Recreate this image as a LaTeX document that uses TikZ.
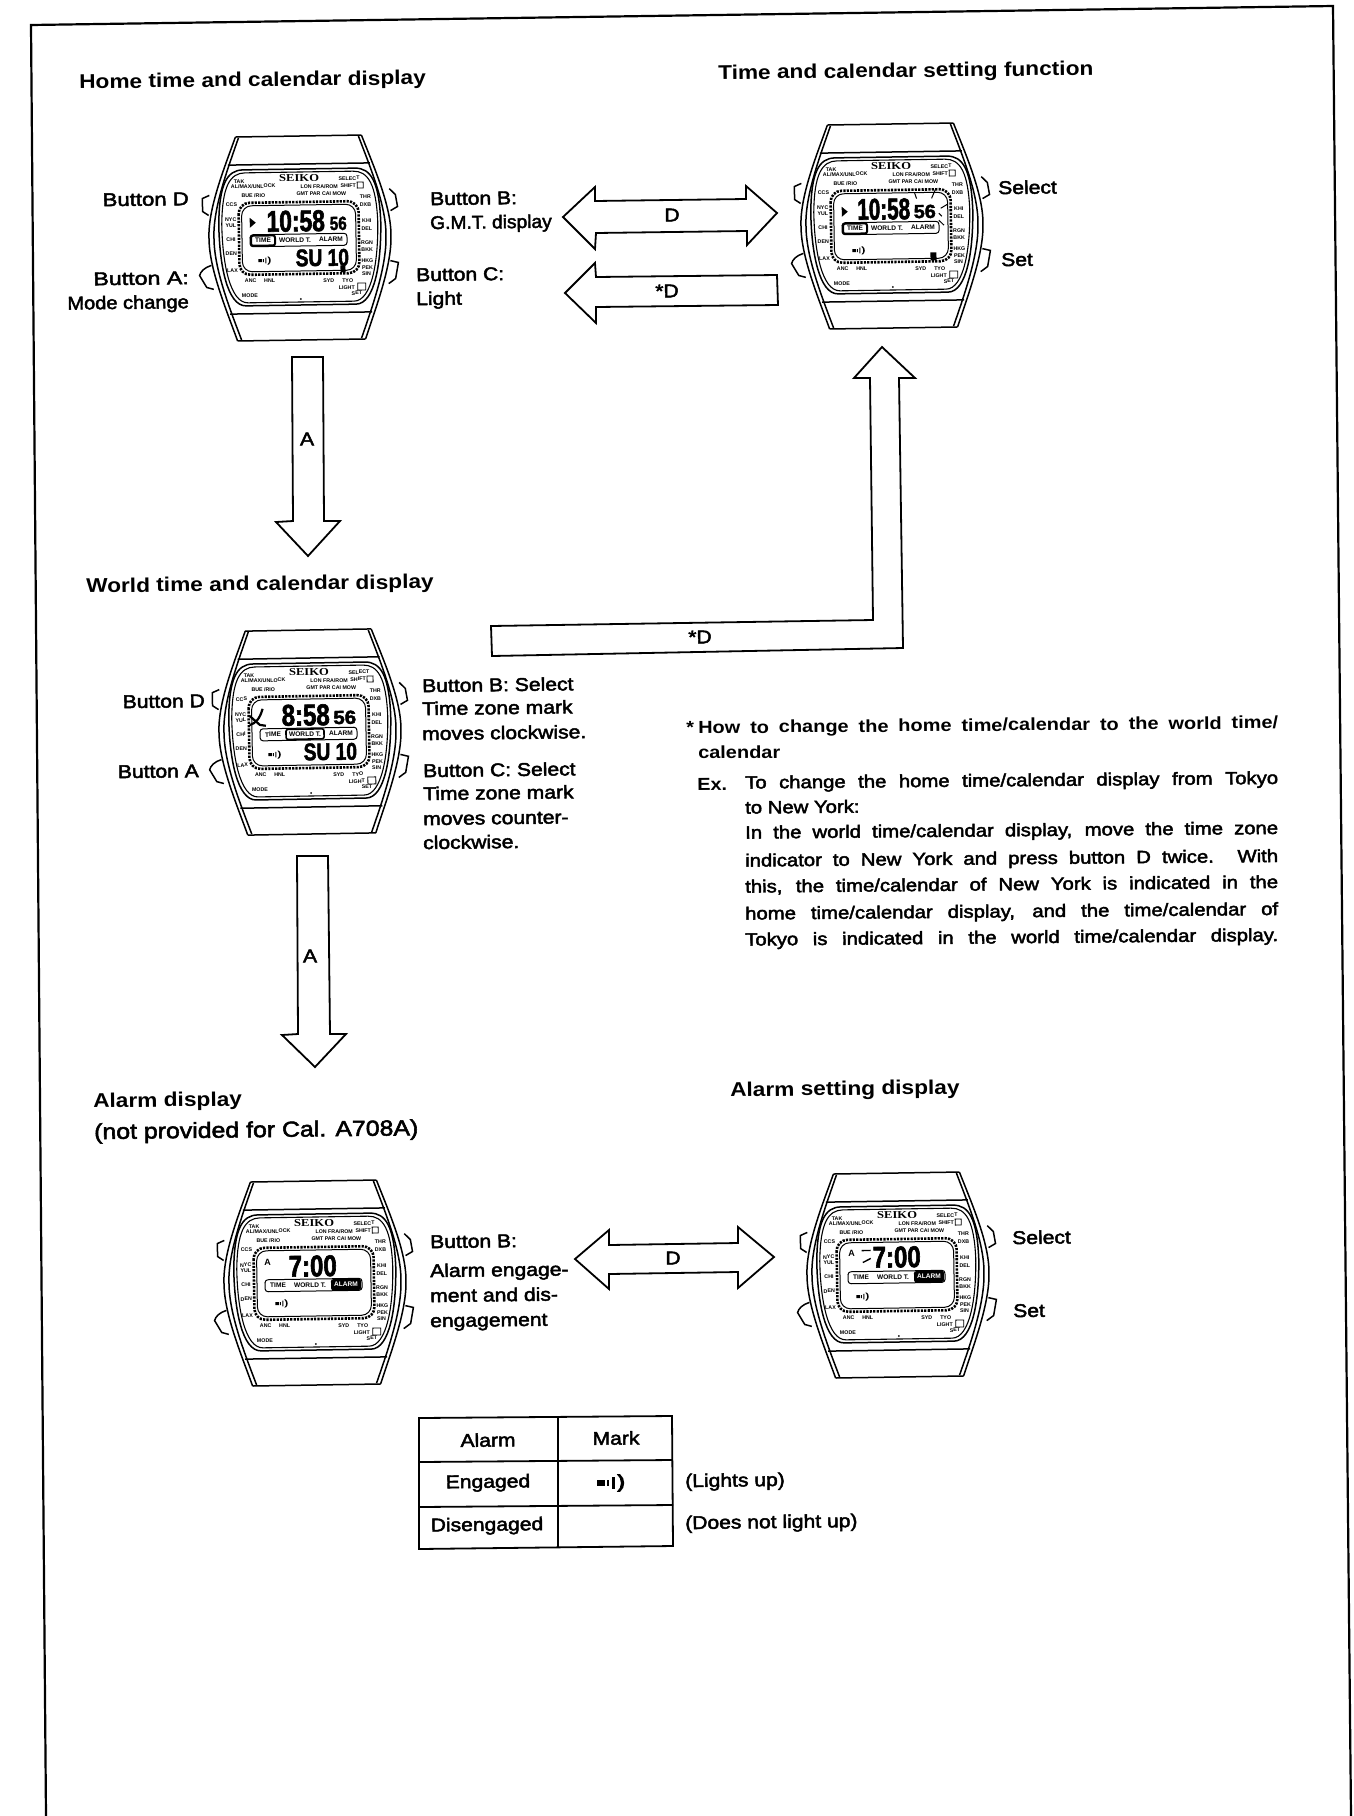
\documentclass[tikz,border=0pt]{standalone}
\usepackage{fontspec}
\setmainfont[FakeStretch=1.14]{Liberation Sans}
\newfontfamily\medf[FakeStretch=1.14,FakeBold=2.5]{Liberation Sans}
\newfontfamily\segf[FakeStretch=0.8,FakeBold=2]{Liberation Sans Bold}
\newfontfamily\logof[FakeStretch=1.2]{Liberation Serif Bold}
\newfontfamily\tinyf{Liberation Sans Bold}
\newcount\labn
\tikzset{
  x=1pt,y=-1pt,
  txt/.style={inner sep=0pt,rotate=0.7,font=\medf\fontsize{18.5}{20}\selectfont},
  head/.style={inner sep=0pt,rotate=0.7,anchor=mid west,yshift=-6pt,font=\bfseries\fontsize{19.9}{20}\selectfont},
  lw/.style={anchor=mid west,yshift=-4.5pt},
  le/.style={anchor=mid east,yshift=-4.5pt},
  note/.style={inner sep=0pt,rotate=0.5,anchor=mid west,yshift=-4pt,font=\medf\fontsize{17.8}{20}\selectfont},
  noteb/.style={inner sep=0pt,rotate=0.5,anchor=mid west,yshift=-4pt,font=\bfseries\fontsize{17.5}{20}\selectfont},
  tinylab/.style={inner sep=0pt,rotate=0.8,font=\tinyf\fontsize{5.3}{6}\selectfont},
  modelab/.style={inner sep=0pt,rotate=0.8,font=\tinyf\fontsize{6.6}{7}\selectfont},
  seg/.style={inner sep=0pt,rotate=0.8,font=\segf\fontsize{30}{30}\selectfont},
  segsm/.style={inner sep=0pt,rotate=0.8,font=\segf\fontsize{19}{20}\selectfont},
  segbt/.style={inner sep=0pt,rotate=0.8,font=\segf\fontsize{24}{24}\selectfont},
  block/.style={draw=black,line width=1.8pt,fill=white,line join=miter},
  wline/.style={draw=black,line width=1.5pt},
  tline/.style={draw=black,line width=1.8pt},
}
\newcommand\lab[3]{\global\advance\labn by 1\relax
  \node[tinylab] (lab\the\labn) at (#1,#2) {#3};}
\newcommand\alarmmark{%
  \fill (0,-1.5) rectangle (3.5,1.5);
  \fill (4.5,-1.5) rectangle (5.5,1.5);
  \fill (7,-2.8) rectangle (8,2.8);
  \fill (9,-4) .. controls (11.5,-2) and (11.5,2) .. (9,4) -- (10.5,4) .. controls (13,2) and (13,-2) .. (10.5,-4) -- cycle;
}
\newcommand\watchbase{%
  % case and strap
  \draw[wline] (-63,-102) -- (63,-102);
  \draw[wline] (-64,102) -- (64,102);
  \draw[wline] (-71,-74) -- (71,-74);
  \draw[wline] (-71,75) -- (71,75);
  \draw[wline] (-63,-102) .. controls (-75,-70) and (-92,-30) .. (-91,0) .. controls (-91,30) and (-75,70) .. (-64,102);
  \draw[wline] (63,-102) .. controls (75,-70) and (92,-30) .. (91,0) .. controls (91,30) and (75,70) .. (64,102);
  \draw[wline] (-60,-101) .. controls (-72,-68) and (-87,-30) .. (-86,0) .. controls (-86,30) and (-72,68) .. (-60,101);
  \draw[wline] (60,-101) .. controls (72,-68) and (87,-30) .. (86,0) .. controls (86,30) and (72,68) .. (60,101);
  % buttons
  \draw[wline] (-90,-44) -- (-97,-41) -- (-97,-28) -- (-91,-24);
  \draw[wline] (-89,26) .. controls (-96,28) and (-100,32) .. (-101,36) -- (-94,48) -- (-87,50);
  \draw[wline] (90,-48) -- (96,-42) -- (98,-30) -- (91,-26);
  \draw[wline] (90,24) -- (98,26) -- (95,42) -- (88,47);
  % bezel
  \draw[wline] (-56,-69) -- (56,-69) .. controls (72,-69) and (80,-55) .. (81,-15) .. controls (81,25) and (74,67) .. (55,67) -- (-55,67) .. controls (-74,67) and (-81,25) .. (-81,-15) .. controls (-80,-55) and (-72,-69) .. (-56,-69) -- cycle;
  \draw[draw=black,line width=1.1pt] (-54,-66) -- (54,-66) .. controls (69,-66) and (77,-53) .. (78,-15) .. controls (78,24) and (71,64) .. (53,64) -- (-53,64) .. controls (-71,64) and (-78,24) .. (-78,-15) .. controls (-77,-53) and (-69,-66) .. (-54,-66) -- cycle;
  % LCD
  \draw[line width=2.6pt,dash pattern=on 2.2pt off 1.2pt,rounded corners=11pt] (-61,-36) rectangle (59,36);
  \draw[line width=1pt,rounded corners=10pt] (-58,-33) rectangle (56,33);
  % tiny labels
  \node[inner sep=0pt,rotate=0.8,font=\logof\fontsize{10.5}{11}\selectfont] (logo\the\labn) at (0,-60) {SEIKO};
  \lab{-60}{-57}{TAK}
  \lab{-46}{-52.5}{AL/MAX/UNLOCK}
  \lab{-46}{-43}{BUE /RIO}
  \lab{20}{-51}{LON FRA/ROM}
  \lab{22}{-44}{GMT PAR CAI MOW}
  \lab{50}{-59}{SELECT}
  \lab{49}{-52}{SHIFT}
  \draw[line width=.8pt] (58,-55) rectangle (64,-49);
  \lab{-68}{-34}{CCS}\lab{-69}{-19}{NYC}\lab{-69}{-13}{YUL}\lab{-69}{1}{CHI}\lab{-69}{15}{DEN}\lab{-68}{32}{LAX}
  \lab{66}{-40}{THR}\lab{66}{-32}{DXB}\lab{67}{-16}{KHI}\lab{67}{-8}{DEL}\lab{67}{6}{RGN}\lab{67}{13}{BKK}\lab{67}{24}{HKG}\lab{67}{31}{PEK}\lab{66}{37}{SIN}
  \lab{-50}{42}{ANC}\lab{-31}{42}{HNL}\lab{28}{43}{SYD}\lab{47}{43}{TYO}
  \lab{46}{50}{LIGHT}\lab{56}{56}{SET}\lab{-51}{57}{MODE}
  \draw[line width=.8pt] (57,46) rectangle (65,53);
  \fill (0,61) circle (1pt);
  % mode bar
  \draw[line width=1pt,rounded corners=3pt] (-50,-4) rectangle (47,8);
}
\newcommand\modetexts[1]{%
  \ifnum#1=1 \draw[line width=2pt,rounded corners=2pt] (-49,-3) rectangle (-25,7);\fi
  \ifnum#1=2 \draw[line width=1.6pt,rounded corners=2pt] (-24,-3) rectangle (14,7);\fi
  \ifnum#1=3 \fill[rounded corners=2pt] (16,-3.5) rectangle (46,7.5);\fi
  \global\advance\labn by 1\relax
  \node[modelab] (modeT\the\labn) at (-37,2) {TIME};
  \node[modelab] (modeW\the\labn) at (-5,2) {WORLD T.};
  \ifnum#1=3 \node[modelab,text=white] (modeA\the\labn) at (31,2) {ALARM};
  \else \node[modelab] (modeA\the\labn) at (31,2) {ALARM};\fi
}
\begin{document}
\begin{tikzpicture}
\useasboundingbox (0,0) rectangle (1353,1816);
\fill[white] (0,0) rectangle (1353,1816);
% sheet border
\draw[line width=2.2pt] (46,1816) -- (31,25) -- (1333,6) -- (1351,1816);

% block arrows
\draw[block] (563,217) -- (595,187) -- (595,201) -- (746,199) -- (746,186) -- (777,213) -- (747,245) -- (747,231) -- (596,233) -- (595,249) -- cycle;
\draw[block] (565,293) -- (595,263) -- (596,277) -- (777,275) -- (778,305) -- (596,307) -- (596,323) -- cycle;
\draw[block] (292,357) -- (323,357) -- (324,521) -- (340,521) -- (308,556) -- (276,522) -- (293,521) -- cycle;
\draw[block] (297,856) -- (328,856) -- (330,1034) -- (346,1034) -- (315,1067) -- (282,1035) -- (298,1034) -- cycle;
\draw[block] (491,626) -- (873,620) -- (870,378) -- (854,378) -- (882,347) -- (915,378) -- (899,378) -- (903,648) -- (492,656) -- cycle;
\draw[block] (575,1259) -- (609,1230) -- (609,1245) -- (738,1243) -- (738,1227) -- (774,1257) -- (738,1288) -- (738,1272) -- (609,1274) -- (609,1289) -- cycle;

% arrow labels
\node[txt] (dA) at (672,215) {D};
\node[txt] (dB) at (667,291) {*D};
\node[txt] (aA) at (307,439) {A};
\node[txt] (aB) at (310,956) {A};
\node[txt] (dC) at (700,637) {*D};
\node[txt] (dD) at (673,1258) {D};

% headings
\node[head] (h1) at (79,80) {Home time and calendar display};
\node[head] (h2) at (718,71) {Time and calendar setting function};
\node[head] (h3) at (86,584) {World time and calendar display};
\node[head] (h4) at (93,1099) {Alarm display};
\node[txt,lw,font=\medf\fontsize{21.8}{22}\selectfont] (h4b) at (94,1132) {(not provided for Cal. A708A)};
\node[head] (h5) at (730,1088) {Alarm setting display};

% button labels
\node[txt,le] (t1) at (189,198) {\scalebox{1.05}[1]{Button D}};
\node[txt,le] (t2) at (189,277) {\scalebox{1.1}[1]{Button A:}};
\node[txt,le] (t3) at (189,301) {\scalebox{.95}[1]{Mode change}};
\node[txt,lw] (t4) at (430,198) {Button B:};
\node[txt,lw] (t5) at (430,222) {\scalebox{.91}[1]{G.M.T. display}};
\node[txt,lw] (t6) at (416,274) {Button C:};
\node[txt,lw] (t7) at (416,298) {Light};
\node[txt,lw] (t8) at (998,187) {Select};
\node[txt,lw] (t9) at (1001,259) {Set};
\node[txt,le] (t10) at (205,700) {Button D};
\node[txt,le] (t11) at (199,770) {Button A};
\node[txt,lw] (t12) at (422,685) {Button B: Select};
\node[txt,lw] (t13) at (422,708) {Time zone mark};
\node[txt,lw] (t14) at (422,733) {moves clockwise.};
\node[txt,lw] (t15) at (423,770) {Button C: Select};
\node[txt,lw] (t16) at (423,793) {Time zone mark};
\node[txt,lw] (t17) at (423,818) {moves counter-};
\node[txt,lw] (t18) at (423,842) {clockwise.};
\node[txt,lw] (t19) at (430,1241) {Button B:};
\node[txt,lw] (t20) at (430,1270) {Alarm engage-};
\node[txt,lw] (t21) at (430,1295) {ment and dis-};
\node[txt,lw] (t22) at (430,1320) {engagement};
\node[txt,lw] (t23) at (1012,1237) {Select};
\node[txt,lw] (t24) at (1013,1310) {Set};

% note
\node[noteb] (n0) at (686,727) {*};
\node[noteb] (n1) at (698,727) {\makebox[580pt][s]{How to change the home time/calendar to the world time/}};
\node[noteb] (n2) at (698,752) {calendar};
\node[noteb] (n3) at (697,784) {Ex.};
\node[note] (n4) at (745,782) {\makebox[533pt][s]{To change the home time/calendar display from Tokyo}};
\node[note] (n5) at (745,807) {to New York:};
\node[note] (n6) at (745,832) {\makebox[533pt][s]{In the world time/calendar display, move the time zone}};
\node[note] (n7) at (745,860) {\makebox[533pt][s]{indicator to New York and press button D twice. With}};
\node[note] (n8) at (745,886) {\makebox[533pt][s]{this, the time/calendar of New York is indicated in the}};
\node[note] (n9) at (745,913) {\makebox[533pt][s]{home time/calendar display, and the time/calendar of}};
\node[note] (n10) at (745,939) {\makebox[533pt][s]{Tokyo is indicated in the world time/calendar display.}};

% table
\coordinate (ta) at (419,1418); \coordinate (tb) at (558,1417); \coordinate (tc) at (672,1416);
\coordinate (ua) at (419,1549); \coordinate (ub) at (558,1548); \coordinate (uc) at (673,1546);
\coordinate (ra) at (419,1462); \coordinate (rc) at (672,1460);
\coordinate (sa) at (419,1507); \coordinate (sc) at (673,1505);
\draw[tline] (ta) -- (tc) -- (uc) -- (ua) -- cycle;
\draw[tline] (tb) -- (ub);
\draw[tline] (ra) -- (rc);
\draw[tline] (sa) -- (sc);
\node[txt] (c1) at (488,1440) {Alarm};
\node[txt] (c2) at (616,1438) {Mark};
\node[txt] (c3) at (488,1483) {Engaged};
\node[txt] (c4) at (487,1526) {Disengaged};
\begin{scope}[shift={(597,1483)},scale=2.2]\alarmmark\end{scope}
\node[txt,lw] (c5) at (685,1480) {(Lights up)};
\node[txt,lw] (c6) at (685,1522) {(Does not light up)};

% watch 1: home time
\begin{scope}[shift={(300,238)},rotate=0.9]
  \watchbase \modetexts{1}
  \fill (-50,-21) -- (-44,-16) -- (-50,-11) -- cycle;
  \node[seg] (w1a) at (-4,-17) {\scalebox{.95}[1]{10:58}};
  \node[segsm] (w1b) at (38.5,-14) {56};
  \node[segbt] (w1c) at (22,20) {SU 10};
  \begin{scope}[shift={(-42,22)}]\alarmmark\end{scope}
  \fill (40,28) rectangle (45,35);
\end{scope}

% watch 2: world time
\begin{scope}[shift={(310,732)},rotate=1]
  \watchbase \modetexts{2}
  \draw[line width=2.2pt] (-60,-8) .. controls (-54,-10) and (-50,-14) .. (-47,-24);
  \draw[line width=2.2pt] (-60,-17) -- (-50,-8) -- (-44,-7);
  \node[seg] (w2a) at (-4,-17) {8:58};
  \node[segsm] (w2b) at (35,-14) {\scalebox{1.35}[1]{56}};
  \node[segbt] (w2c) at (20,20) {SU 10};
  \begin{scope}[shift={(-42,22)}]\alarmmark\end{scope}
\end{scope}

% watch 3: time setting
\begin{scope}[shift={(892,226)},rotate=0.9]
  \watchbase \modetexts{1}
  \fill (-50,-20) -- (-44,-15) -- (-50,-10) -- cycle;
  \node[seg] (w3a) at (-8,-17) {\scalebox{.86}[1]{10:58}};
  \node[segsm] (w3b) at (33,-14) {\scalebox{1.3}[1]{56}};
  \foreach \p/\q in {{(23,-33)}/{(25,-27)},{(44,-36)}/{(40,-27)},{(56,-21)}/{(49,-17)},{(47,-12)}/{(50,-9)},{(47,-5)}/{(52,0)}}
    \draw[line width=1pt] \p -- \q;
  \begin{scope}[shift={(-40,24)}]\alarmmark\end{scope}
  \fill (38,27) rectangle (44,35);
\end{scope}

% watch 4: alarm
\begin{scope}[shift={(315,1283)},rotate=0.9]
  \watchbase \modetexts{3}
  \node[inner sep=0pt,rotate=0.8,font=\tinyf\fontsize{9}{9}\selectfont] (w4a) at (-47,-21) {A};
  \node[seg] (w4b) at (-2,-17) {7:00};
  \begin{scope}[shift={(-40,20)}]\alarmmark\end{scope}
\end{scope}

% watch 5: alarm setting
\begin{scope}[shift={(898,1275)},rotate=0.9]
  \watchbase \modetexts{3}
  \node[inner sep=0pt,rotate=0.8,font=\tinyf\fontsize{9}{9}\selectfont] (w5a) at (-46,-22) {A};
  \node[seg] (w5b) at (-1,-18) {7:00};
  \foreach \p/\q in {{(-36,-25)}/{(-27,-25)},{(-35,-13)}/{(-27,-17)}}
    \draw[line width=1.4pt] \p -- \q;
  \begin{scope}[shift={(-42,21)}]\alarmmark\end{scope}
\end{scope}
\end{tikzpicture}
\end{document}
